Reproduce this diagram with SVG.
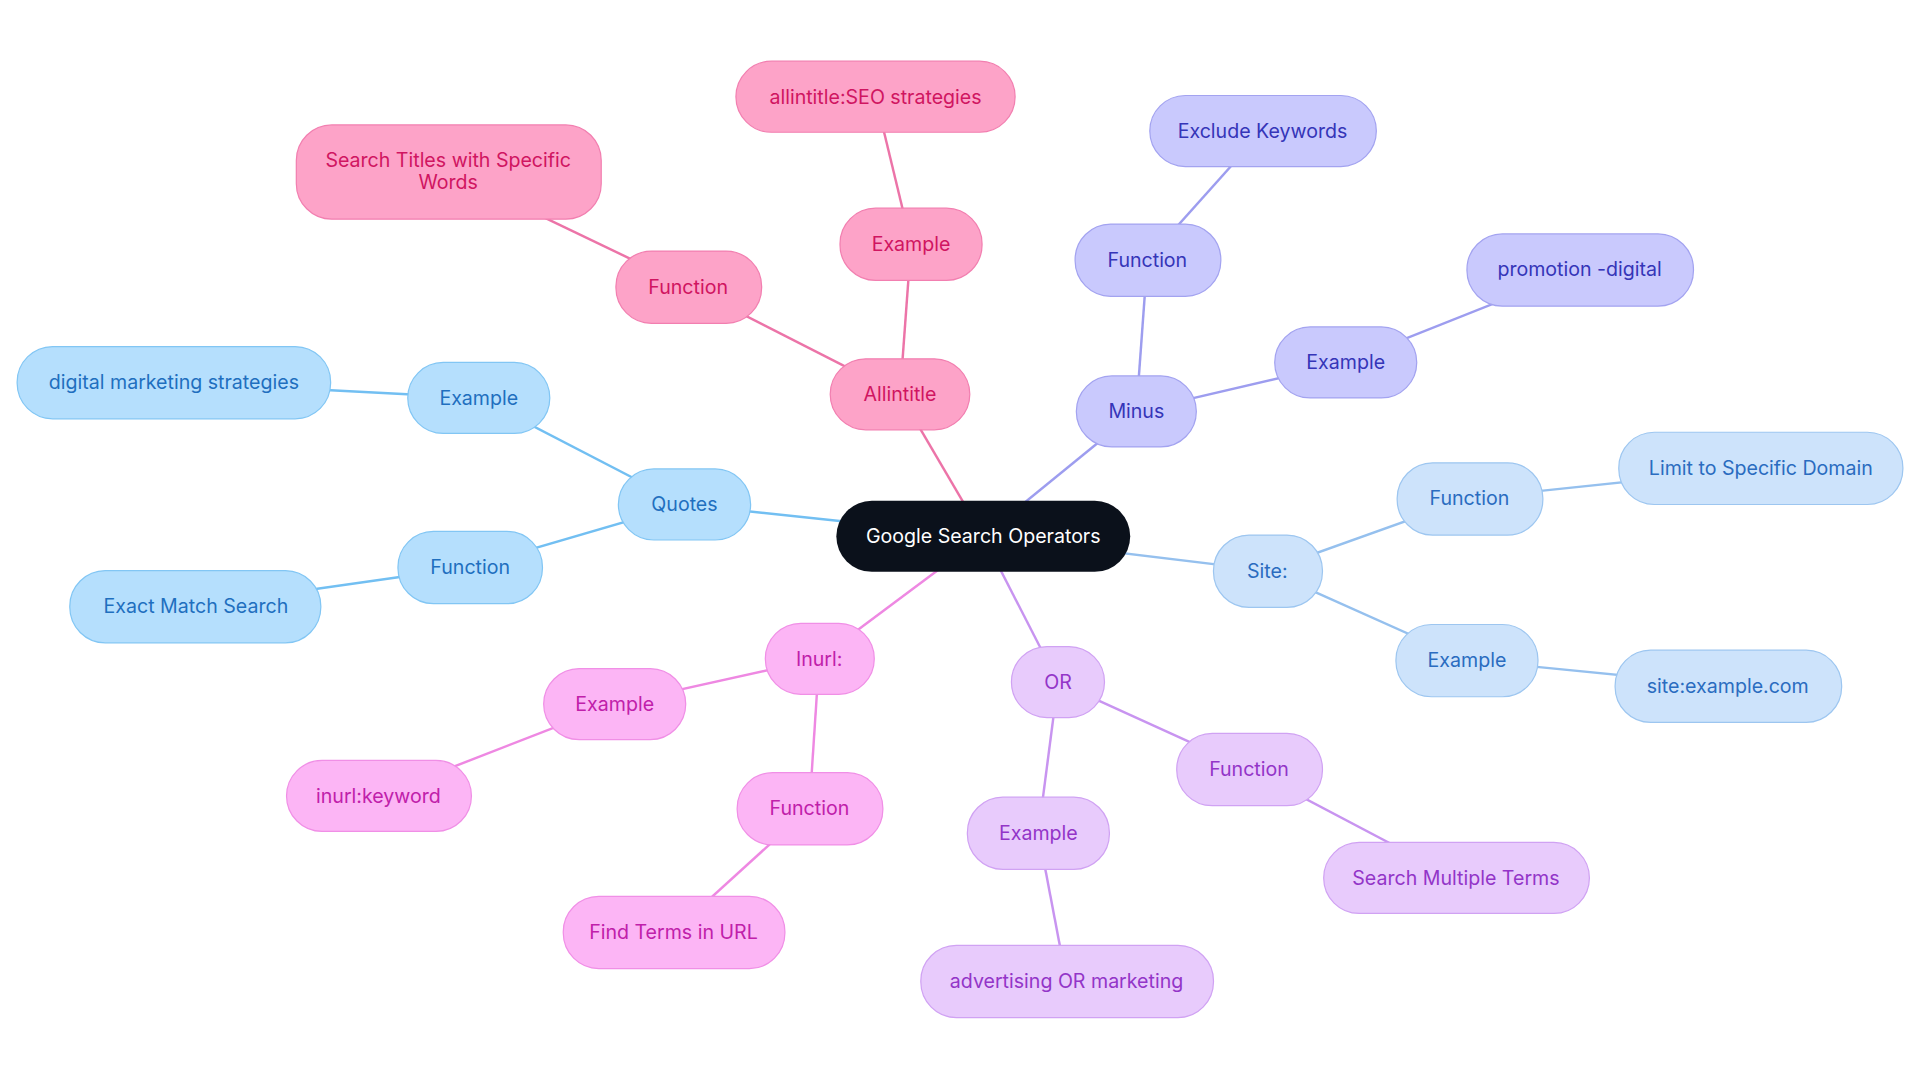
<svg xmlns="http://www.w3.org/2000/svg" width="1920" height="1083" viewBox="0 0 1920 1083">
<style>
text{font-family:Inter,"Noto Sans",sans-serif;font-size:16px;text-anchor:middle;dominant-baseline:central}
.b rect{fill:#b5dffd;stroke:#82c6f4}.b text{fill:#1f6fbf}
.p rect{fill:#fda3c8;stroke:#f27fb0}.p text{fill:#d01561}
.v rect{fill:#c9c9fd;stroke:#a3a3f0}.v text{fill:#3535b8}
.s rect{fill:#cde3fb;stroke:#9dc6f0}.s text{fill:#2a6cc0}
.o rect{fill:#e8cbfc;stroke:#d0a2f3}.o text{fill:#9335c8}
.m rect{fill:#fcb5f5;stroke:#f08fe6}.m text{fill:#c020aa}
.e line{stroke-width:2}
</style>
<rect width="1920" height="1083" fill="#fff"/>
<g transform="scale(1.2245)">
<g id="connectors" class="e">
<line x1="803" y1="438" x2="559" y2="412" stroke="#72bff2"/>
<line x1="559" y1="412" x2="391" y2="325" stroke="#72bff2"/>
<line x1="391" y1="325" x2="142" y2="312" stroke="#72bff2"/>
<line x1="559" y1="412" x2="384" y2="463" stroke="#72bff2"/>
<line x1="384" y1="463" x2="160" y2="495" stroke="#72bff2"/>
<line x1="803" y1="438" x2="735" y2="322" stroke="#ec74a8"/>
<line x1="735" y1="322" x2="562" y2="234" stroke="#ec74a8"/>
<line x1="562" y1="234" x2="366" y2="140" stroke="#ec74a8"/>
<line x1="735" y1="322" x2="744" y2="199" stroke="#ec74a8"/>
<line x1="744" y1="199" x2="715" y2="79" stroke="#ec74a8"/>
<line x1="803" y1="438" x2="928" y2="336" stroke="#9d9def"/>
<line x1="928" y1="336" x2="937" y2="212" stroke="#9d9def"/>
<line x1="937" y1="212" x2="1031" y2="107" stroke="#9d9def"/>
<line x1="928" y1="336" x2="1099" y2="296" stroke="#9d9def"/>
<line x1="1099" y1="296" x2="1290" y2="220" stroke="#9d9def"/>
<line x1="803" y1="438" x2="1035" y2="466" stroke="#95c0ee"/>
<line x1="1035" y1="466" x2="1200" y2="407" stroke="#95c0ee"/>
<line x1="1200" y1="407" x2="1438" y2="382" stroke="#95c0ee"/>
<line x1="1035" y1="466" x2="1198" y2="539" stroke="#95c0ee"/>
<line x1="1198" y1="539" x2="1411" y2="560" stroke="#95c0ee"/>
<line x1="803" y1="438" x2="864" y2="557" stroke="#c894f0"/>
<line x1="864" y1="557" x2="1020" y2="628" stroke="#c894f0"/>
<line x1="1020" y1="628" x2="1189" y2="717" stroke="#c894f0"/>
<line x1="864" y1="557" x2="848" y2="680" stroke="#c894f0"/>
<line x1="848" y1="680" x2="871" y2="801" stroke="#c894f0"/>
<line x1="803" y1="438" x2="669" y2="538" stroke="#ee88e2"/>
<line x1="669" y1="538" x2="502" y2="575" stroke="#ee88e2"/>
<line x1="502" y1="575" x2="309" y2="650" stroke="#ee88e2"/>
<line x1="669" y1="538" x2="661" y2="660" stroke="#ee88e2"/>
<line x1="661" y1="660" x2="550" y2="761" stroke="#ee88e2"/>
</g>
<g id="root"><rect x="683" y="409" width="240" height="58" rx="29" fill="#0b111b"/><text x="803" y="438" fill="#fff">Google Search Operators</text></g>
<g id="quotes" class="b"><rect x="505" y="383" width="108" height="58" rx="29"/><text x="559" y="412">Quotes</text></g>
<g id="q-ex" class="b"><rect x="333" y="296" width="116" height="58" rx="29"/><text x="391" y="325">Example</text></g>
<g id="q-ex-v" class="b"><rect x="14" y="283" width="256" height="59" rx="29"/><text x="142" y="312">digital marketing strategies</text></g>
<g id="q-fn" class="b"><rect x="325" y="434" width="118" height="59" rx="29"/><text x="384" y="463">Function</text></g>
<g id="q-fn-v" class="b"><rect x="57" y="466" width="205" height="59" rx="29"/><text x="160" y="495">Exact Match Search</text></g>
<g id="allintitle" class="p"><rect x="678" y="293" width="114" height="58" rx="29"/><text x="735" y="322">Allintitle</text></g>
<g id="a-fn" class="p"><rect x="503" y="205" width="119" height="59" rx="29"/><text x="562" y="234">Function</text></g>
<g id="a-fn-v" class="p"><rect x="242" y="102" width="249" height="77" rx="29"/><text x="366" y="131">Search Titles with Specific</text><text x="366" y="149">Words</text></g>
<g id="a-ex" class="p"><rect x="686" y="170" width="116" height="59" rx="29"/><text x="744" y="199">Example</text></g>
<g id="a-ex-v" class="p"><rect x="601" y="50" width="228" height="58" rx="29"/><text x="715" y="79">allintitle:SEO strategies</text></g>
<g id="minus" class="v"><rect x="879" y="307" width="98" height="58" rx="29"/><text x="928" y="336">Minus</text></g>
<g id="m-fn" class="v"><rect x="878" y="183" width="119" height="59" rx="29"/><text x="937" y="212">Function</text></g>
<g id="m-fn-v" class="v"><rect x="939" y="78" width="185" height="58" rx="29"/><text x="1031" y="107">Exclude Keywords</text></g>
<g id="m-ex" class="v"><rect x="1041" y="267" width="116" height="58" rx="29"/><text x="1099" y="296">Example</text></g>
<g id="m-ex-v" class="v"><rect x="1198" y="191" width="185" height="59" rx="29"/><text x="1290" y="220">promotion -digital</text></g>
<g id="site" class="s"><rect x="991" y="437" width="89" height="59" rx="29"/><text x="1035" y="466">Site:</text></g>
<g id="s-fn" class="s"><rect x="1141" y="378" width="119" height="59" rx="29"/><text x="1200" y="407">Function</text></g>
<g id="s-fn-v" class="s"><rect x="1322" y="353" width="232" height="59" rx="29"/><text x="1438" y="382">Limit to Specific Domain</text></g>
<g id="s-ex" class="s"><rect x="1140" y="510" width="116" height="59" rx="29"/><text x="1198" y="539">Example</text></g>
<g id="s-ex-v" class="s"><rect x="1319" y="531" width="185" height="59" rx="29"/><text x="1411" y="560">site:example.com</text></g>
<g id="or" class="o"><rect x="826" y="528" width="76" height="58" rx="29"/><text x="864" y="557">OR</text></g>
<g id="o-fn" class="o"><rect x="961" y="599" width="119" height="59" rx="29"/><text x="1020" y="628">Function</text></g>
<g id="o-fn-v" class="o"><rect x="1081" y="688" width="217" height="58" rx="29"/><text x="1189" y="717">Search Multiple Terms</text></g>
<g id="o-ex" class="o"><rect x="790" y="651" width="116" height="59" rx="29"/><text x="848" y="680">Example</text></g>
<g id="o-ex-v" class="o"><rect x="752" y="772" width="239" height="59" rx="29"/><text x="871" y="801">advertising OR marketing</text></g>
<g id="inurl" class="m"><rect x="625" y="509" width="89" height="58" rx="29"/><text x="669" y="538">Inurl:</text></g>
<g id="i-ex" class="m"><rect x="444" y="546" width="116" height="58" rx="29"/><text x="502" y="575">Example</text></g>
<g id="i-ex-v" class="m"><rect x="234" y="621" width="151" height="58" rx="29"/><text x="309" y="650">inurl:keyword</text></g>
<g id="i-fn" class="m"><rect x="602" y="631" width="119" height="59" rx="29"/><text x="661" y="660">Function</text></g>
<g id="i-fn-v" class="m"><rect x="460" y="732" width="181" height="59" rx="29"/><text x="550" y="761">Find Terms in URL</text></g>
</g>
</svg>
